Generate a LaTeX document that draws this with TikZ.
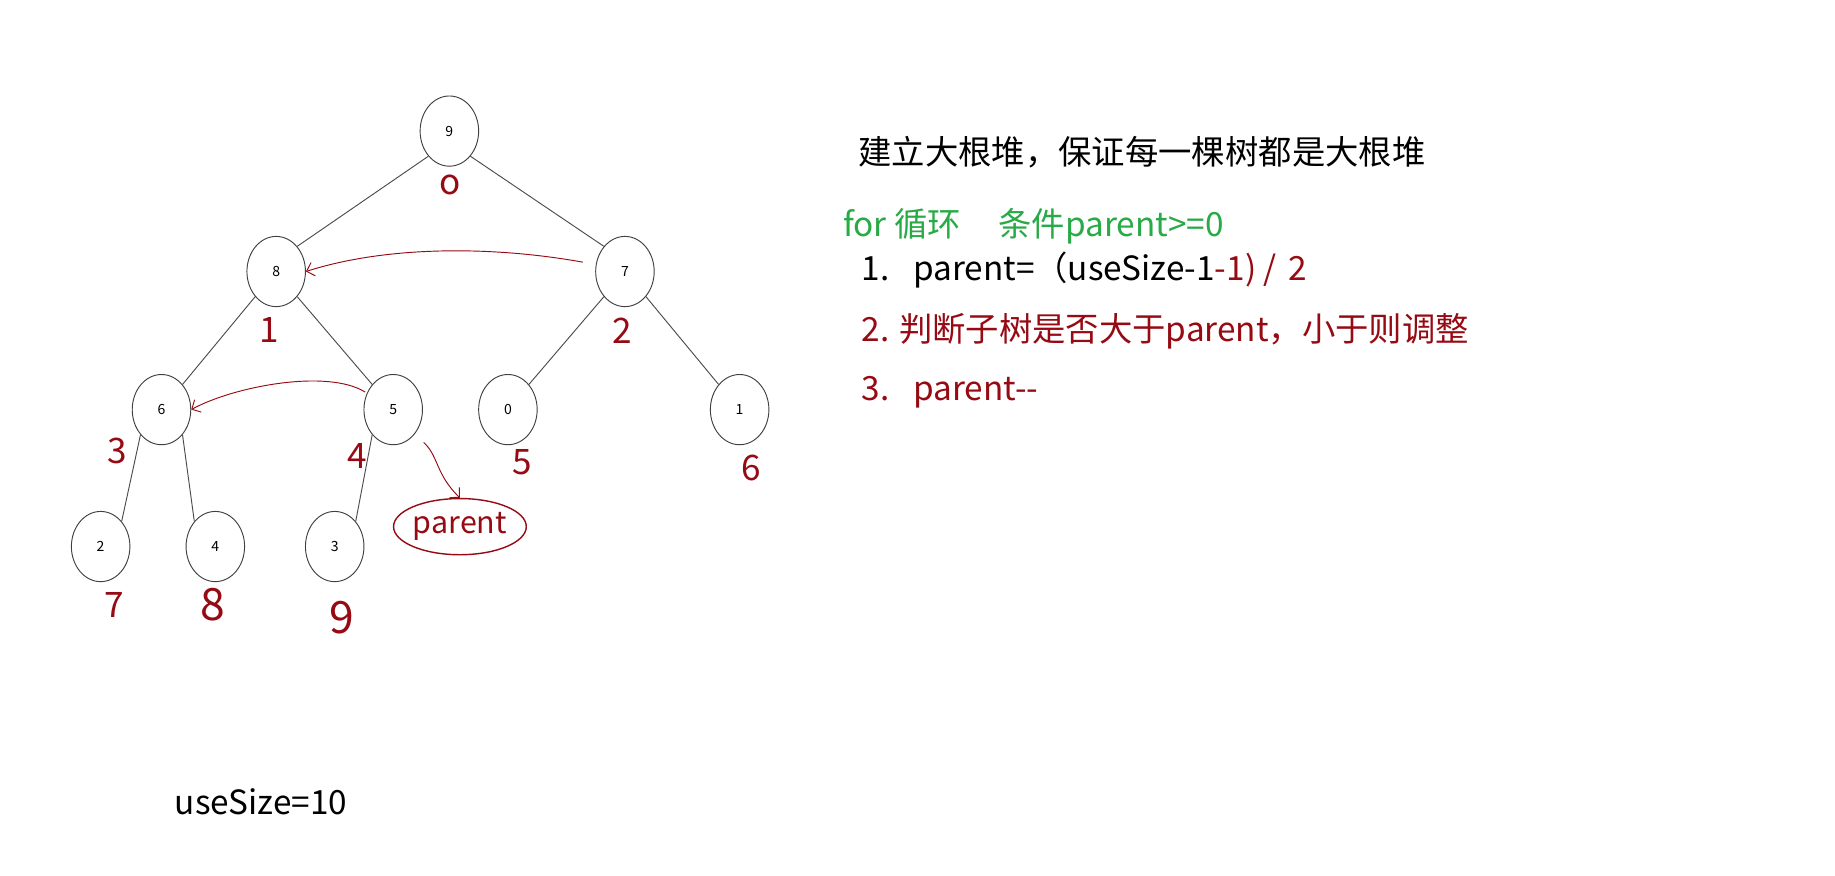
\documentclass[tikz,border=0pt]{standalone}
\usepackage{fontspec}
\setmainfont{Noto Sans CJK SC}
\usetikzlibrary{arrows.meta,shapes.geometric}
\definecolor{hred}{RGB}{150,10,20}
\definecolor{hgreen}{RGB}{40,170,70}
\begin{document}
\begin{tikzpicture}[x=1pt,y=-1pt,
 tn/.style={draw=black!75,thick,ellipse,minimum width=50pt,minimum height=60pt,inner sep=0pt,font=\fontsize{12}{13}\selectfont},
 ed/.style={draw=black!70,thick},
 hw/.style={hred,font=\fontsize{30}{32}\selectfont},
 tx/.style={anchor=west,font=\fontsize{28.5}{32}\selectfont},
 ha/.style={hred,thick,-{Straight Barb[length=6pt]}}]
\fill[white] (0,0) rectangle (1568,748);
\useasboundingbox (0,0) rectangle (1568,748);
\node[tn] (n9) at (384,112) {9};
\node[tn] (n8) at (236,232) {8};
\node[tn] (n7) at (534,232) {7};
\node[tn] (n6) at (138,350) {6};
\node[tn] (n5) at (336,350) {5};
\node[tn] (n0) at (434,350) {0};
\node[tn] (n1) at (632,350) {1};
\node[tn] (n2) at (86,467) {2};
\node[tn] (n4) at (184,467) {4};
\node[tn] (n3) at (286,467) {3};
\draw[ed] (n9.south west) -- (n8.north east);
\draw[ed] (n9.south east) -- (n7.north west);
\draw[ed] (n8.south west) -- (n6.north east);
\draw[ed] (n8.south east) -- (n5.north west);
\draw[ed] (n7.south west) -- (n0.north east);
\draw[ed] (n7.south east) -- (n1.north west);
\draw[ed] (n6.south west) -- (n2.north east);
\draw[ed] (n6.south east) -- (n4.north west);
\draw[ed] (n5.south west) -- (n3.north east);
\node[hw] at (385,158) {o};
\node[hw] at (230,282) {1};
\node[hw] at (532,283) {2};
\node[hw] at (100,385) {3};
\node[hw] at (305,390) {4};
\node[hw] at (446,395) {5};
\node[hw] at (642,400) {6};
\node[hw] at (98,517) {7};
\node[hw,font=\fontsize{38}{40}\selectfont] at (182,517) {8};
\node[hw,font=\fontsize{38}{40}\selectfont] at (292,528) {9};
\coordinate (a1) at (498,224);
\coordinate (a2) at (312,335);
\coordinate (a3) at (362,378);
\draw[ha] (a1) .. controls (420,210) and (330,210) .. (n8.east);
\draw[ha] (a2) .. controls (280,315) and (200,330) .. (n6.east);
\node[draw=hred,very thick,ellipse,minimum width=100pt,minimum height=48pt,hred,font=\fontsize{26}{30}\selectfont,inner sep=0pt] (par) at (393,450) {parent};
\draw[ha] (a3) .. controls (375,390) and (372,405) .. (par.north);
\node[tx] at (730,130) {建立大根堆，保证每一棵树都是大根堆};
\node[tx,hgreen] at (717,193) {for 循环\hspace{32pt}条件parent>=0};
\node[tx] at (733,231) {1.\hspace{20pt}parent=（useSize-1\textcolor{hred}{-1) /\hspace{10pt}2}};
\node[tx,hred] at (733,283) {2.\hspace{8pt}判断子树是否大于parent，小于则调整};
\node[tx,hred] at (733,335) {3.\hspace{20pt}parent-{}-};
\node[tx] at (146,685) {useSize=10};
\end{tikzpicture}
\end{document}
